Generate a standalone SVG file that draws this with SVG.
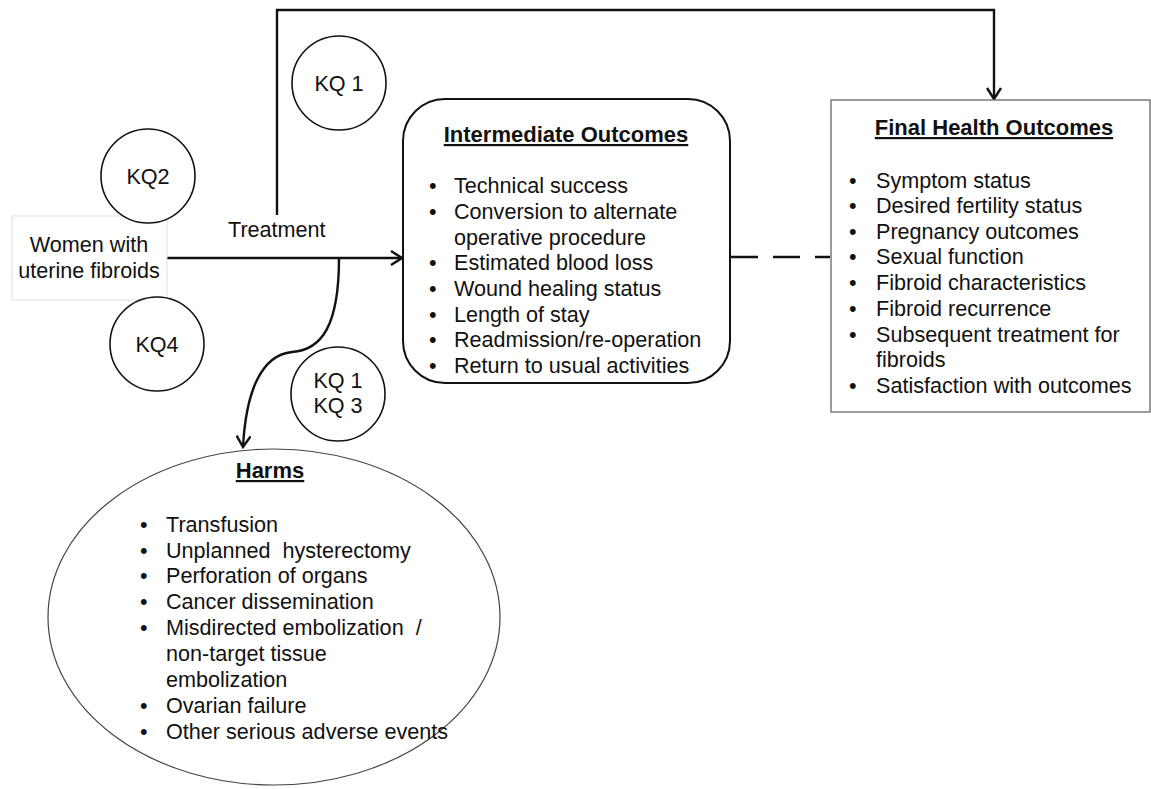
<svg xmlns="http://www.w3.org/2000/svg" width="1151" height="789" viewBox="0 0 1151 789">
<style>
text{font-family:"Liberation Sans",Arial,sans-serif;font-size:21.6px;fill:#111}
.t{font-weight:bold;text-decoration:underline;font-size:22px}
.c{text-anchor:middle}
.kq{fill:#fff;stroke:#111;stroke-width:1.6}
.ln{fill:none;stroke:#111;stroke-width:2.4}
.pre{white-space:pre}
</style>
<defs>
<marker id="ah" markerWidth="16" markerHeight="16" viewBox="0 0 16 16" refX="14" refY="8" orient="auto" markerUnits="userSpaceOnUse">
<path d="M3,1 L14,8 L3,15" fill="none" stroke="#111" stroke-width="2.4"/>
</marker>
</defs>
<g id="connectors">
<path class="ln" d="M277,215 V10 H994 V99" marker-end="url(#ah)"/>
<path class="ln" d="M167,258 H402" marker-end="url(#ah)"/>
<path class="ln" d="M339,258 C339,325 322,350 292,352 C262,355 246,390 243,447" marker-end="url(#ah)"/>
<path class="ln" d="M731,257 H830" stroke-dasharray="27,15"/>
<text x="228" y="237">Treatment</text>
</g>
<g id="women">
<rect x="12" y="216" width="155" height="84" fill="#fff" stroke="#ddd" stroke-width="1"/>
<text class="c" x="89" y="252">Women with</text>
<text class="c" x="89" y="278">uterine fibroids</text>
</g>
<g id="kq1top"><circle class="kq" cx="339" cy="83" r="47"/><text class="c" x="339" y="91">KQ 1</text></g>
<g id="kq2"><circle class="kq" cx="148" cy="176" r="47"/><text class="c" x="148" y="184">KQ2</text></g>
<g id="kq4"><circle class="kq" cx="157" cy="344" r="47"/><text class="c" x="157" y="352">KQ4</text></g>
<g id="kq13"><circle class="kq" cx="338" cy="394" r="47"/><text class="c" x="338" y="388">KQ 1</text><text class="c" x="338" y="413">KQ 3</text></g>
<g id="intermediate">
<rect x="403" y="99" width="327" height="284" rx="42" ry="42" fill="#fff" stroke="#111" stroke-width="2"/>
<text class="t c" x="566" y="142">Intermediate Outcomes</text>
<g>
<text x="429" y="193">•</text><text x="454" y="193">Technical success</text>
<text x="429" y="219">•</text><text x="454" y="219">Conversion to alternate</text>
<text x="454" y="245">operative procedure</text>
<text x="429" y="270">•</text><text x="454" y="270">Estimated blood loss</text>
<text x="429" y="296">•</text><text x="454" y="296">Wound healing status</text>
<text x="429" y="322">•</text><text x="454" y="322">Length of stay</text>
<text x="429" y="347">•</text><text x="454" y="347">Readmission/re-operation</text>
<text x="429" y="373">•</text><text x="454" y="373">Return to usual activities</text>
</g>
</g>
<g id="final">
<rect x="831" y="100" width="319" height="312" fill="#fff" stroke="#666" stroke-width="1.3"/>
<text class="t c" x="994" y="135">Final Health Outcomes</text>
<text x="849" y="188">•</text><text x="876" y="188">Symptom status</text>
<text x="849" y="213">•</text><text x="876" y="213">Desired fertility status</text>
<text x="849" y="239">•</text><text x="876" y="239">Pregnancy outcomes</text>
<text x="849" y="264">•</text><text x="876" y="264">Sexual function</text>
<text x="849" y="290">•</text><text x="876" y="290">Fibroid characteristics</text>
<text x="849" y="316">•</text><text x="876" y="316">Fibroid recurrence</text>
<text x="849" y="342">•</text><text x="876" y="342">Subsequent treatment for</text>
<text x="876" y="367">fibroids</text>
<text x="849" y="393">•</text><text x="876" y="393">Satisfaction with outcomes</text>
</g>
<g id="harms">
<ellipse cx="274" cy="617" rx="226" ry="168" fill="#fff" stroke="#444" stroke-width="1.2"/>
<text class="t c" x="270" y="478">Harms</text>
<text x="140" y="532">•</text><text x="166" y="532">Transfusion</text>
<text x="140" y="558">•</text><text class="pre" x="166" y="558">Unplanned  hysterectomy</text>
<text x="140" y="583">•</text><text x="166" y="583">Perforation of organs</text>
<text x="140" y="609">•</text><text x="166" y="609">Cancer dissemination</text>
<text x="140" y="635">•</text><text class="pre" x="166" y="635">Misdirected embolization  /</text>
<text x="166" y="661">non-target tissue</text>
<text x="166" y="687">embolization</text>
<text x="140" y="713">•</text><text x="166" y="713">Ovarian failure</text>
<text x="140" y="739">•</text><text x="166" y="739">Other serious adverse events</text>
</g>
</svg>
